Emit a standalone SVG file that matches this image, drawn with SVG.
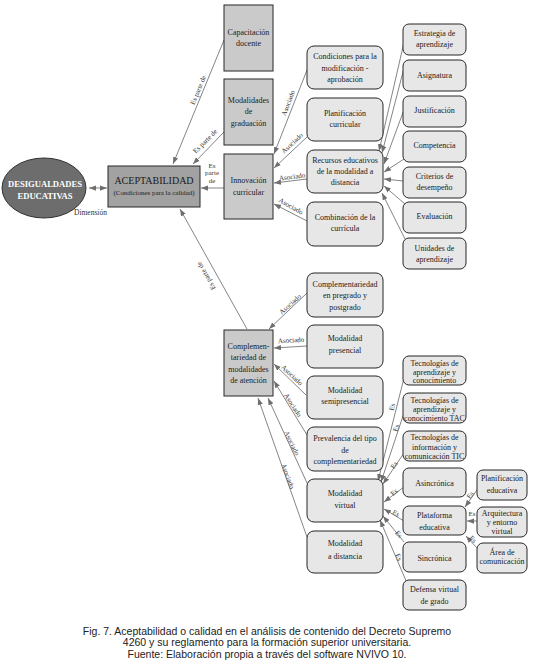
<svg xmlns="http://www.w3.org/2000/svg" width="534" height="668" viewBox="0 0 534 668">
<defs>
<marker id="ah" viewBox="0 0 8 6" refX="8" refY="3" markerWidth="7" markerHeight="5.5" markerUnits="userSpaceOnUse" orient="auto-start-reverse">
<path d="M0,0 L8,3 L0,6 z" fill="#6f6f6f"/>
</marker>
<style>
.sq{fill:#cacaca;stroke:#262626;stroke-width:1}
.rb{fill:#e7e7e7;stroke:#262626;stroke-width:1}
.t{font-family:"Liberation Serif","Times New Roman",serif;font-size:8px;fill:#1a1a1a;text-anchor:middle}
.lb{font-family:"Liberation Serif","Times New Roman",serif;font-size:7px;fill:#333;text-anchor:middle}
.c{stroke:#777;stroke-width:0.9;fill:none;marker-end:url(#ah)}
.cap{font-family:"Liberation Sans",Arial,sans-serif;font-size:10.5px;fill:#222;text-anchor:middle}
</style>
</defs>
<rect width="534" height="668" fill="#ffffff"/>

<g id="connectors">
<path class="c" d="M89,188 L107,188" style="marker-start:url(#ah)"/>
<path class="c" d="M224,40 L173,164"/>
<path class="c" d="M224,132 L193,164"/>
<path class="c" d="M224,188 L201,188"/>
<path class="c" d="M247,329 L180,209"/>
<path class="c" d="M307,70 L274,154"/>
<path class="c" d="M307,137 L274,168"/>
<path class="c" d="M307,179 L274,183"/>
<path class="c" d="M307,221 L274,204"/>
<path class="c" d="M405,38 L379,151"/>
<path class="c" d="M404,68 L382,153"/>
<path class="c" d="M405,107 L384,164"/>
<path class="c" d="M404,159 L384,172"/>
<path class="c" d="M403,181 L384,179"/>
<path class="c" d="M405,204 L384,186"/>
<path class="c" d="M405,239 L382,193"/>
<path class="c" d="M307,293 L269,329"/>
<path class="c" d="M307,346 L274,348"/>
<path class="c" d="M306,395 L274,364"/>
<path class="c" d="M307,435 L274,381"/>
<path class="c" d="M307,483 L268,398"/>
<path class="c" d="M307,537 L258,398"/>
<path class="c" d="M404,378 L378,481"/>
<path class="c" d="M404,413 L381,482"/>
<path class="c" d="M404,453 L383,484"/>
<path class="c" d="M404,487 L384,502"/>
<path class="c" d="M404,521 L384,509"/>
<path class="c" d="M404,542 L383,516"/>
<path class="c" d="M407,583 L380,520"/>
<path class="c" d="M477,490 L465,507"/>
<path class="c" d="M477,521 L467,521"/>
<path class="c" d="M477,548 L466,536"/>
</g>

<g id="connector-labels">
<text class="lb" x="0" y="2.5" transform="translate(198,90) rotate(-67.5)">Es parte de</text>
<text class="lb" x="0" y="2.5" transform="translate(205,141) rotate(-45)">Es parte de</text>
<text class="lb" x="212" y="167.5">Es</text>
<text class="lb" x="212" y="175">parte</text>
<text class="lb" x="212" y="182.5">de</text>
<text class="lb" x="0" y="2.5" transform="translate(206,276) rotate(240.6)">Es parte de</text>
<text class="lb" x="0" y="2.5" transform="translate(288,103) rotate(-69)">Asociado</text>
<text class="lb" x="0" y="2.5" transform="translate(292,143) rotate(-43)">Asociado</text>
<text class="lb" x="0" y="2.5" transform="translate(292,176.5) rotate(-7)">Asociado</text>
<text class="lb" x="0" y="2.5" transform="translate(291,206) rotate(30)">Asociado</text>
<text class="lb" x="0" y="2.5" transform="translate(290,304) rotate(-42)">Asociado</text>
<text class="lb" x="0" y="2.5" transform="translate(291,340) rotate(-3)">Asociado</text>
<text class="lb" x="0" y="2.5" transform="translate(292,375) rotate(43)">Asociado</text>
<text class="lb" x="0" y="2.5" transform="translate(293,405) rotate(57)">Asociado</text>
<text class="lb" x="0" y="2.5" transform="translate(292,443) rotate(64)">Asociado</text>
<text class="lb" x="0" y="2.5" transform="translate(288,476) rotate(70)">Asociado</text>
<text class="lb" x="0" y="2.5" transform="translate(392,407) rotate(-76)">Es</text>
<text class="lb" x="0" y="2.5" transform="translate(396,428) rotate(-72)">Es</text>
<text class="lb" x="0" y="2.5" transform="translate(394,465) rotate(-55)">Es</text>
<text class="lb" x="0" y="2.5" transform="translate(394,492) rotate(-40)">Es</text>
<text class="lb" x="0" y="2.5" transform="translate(396,513) rotate(30)">Es</text>
<text class="lb" x="0" y="2.5" transform="translate(399,534) rotate(50)">Es</text>
<text class="lb" x="0" y="2.5" transform="translate(399,557) rotate(67)">Es</text>
<text class="lb" x="0" y="2.5" transform="translate(470,495) rotate(-53)">Es</text>
<text class="lb" x="472" y="516">Es</text>
<text class="lb" x="0" y="2.5" transform="translate(473,539) rotate(47)">Es</text>
<text class="lb" x="74" y="214.5" style="text-anchor:start;font-size:7.5px">Dimensión</text>
</g>

<g id="desigualdades">
<ellipse cx="44" cy="188" rx="42" ry="30" fill="#6d6d6d" stroke="#333" stroke-width="1"/>
<text x="45" y="186.5" style="font-family:'Liberation Serif','Times New Roman',serif;font-size:8.6px;font-weight:bold;fill:#fff;text-anchor:middle">DESIGUALDADES</text>
<text x="45" y="199" style="font-family:'Liberation Serif','Times New Roman',serif;font-size:8.6px;font-weight:bold;fill:#fff;text-anchor:middle">EDUCATIVAS</text>
</g>

<g id="aceptabilidad">
<rect x="108" y="166" width="92" height="41" fill="#a2a2a2" stroke="#262626" stroke-width="1"/>
<text class="t" x="154" y="184" style="font-size:10px">ACEPTABILIDAD</text>
<text class="t" x="154" y="195" style="font-size:6.9px">(Condiciones para la calidad)</text>
</g>

<g id="capacitacion">
<rect class="sq" x="224" y="5" width="49" height="66"/>
<text class="t" x="248.5" y="34.5">Capacitación</text>
<text class="t" x="248.5" y="45.5">docente</text>
</g>
<g id="modalidades-graduacion">
<rect class="sq" x="224" y="79" width="49" height="66"/>
<text class="t" x="248.5" y="102.5">Modalidades</text>
<text class="t" x="248.5" y="114">de</text>
<text class="t" x="248.5" y="125.5">graduación</text>
</g>
<g id="innovacion">
<rect class="sq" x="224" y="154" width="49" height="65"/>
<text class="t" x="248.5" y="183">Innovación</text>
<text class="t" x="248.5" y="194.5">curricular</text>
</g>
<g id="complementariedad">
<rect class="sq" x="224" y="330" width="49" height="66"/>
<text class="t" x="248.5" y="348.5">Complemen-</text>
<text class="t" x="248.5" y="360">tariedad de</text>
<text class="t" x="248.5" y="371.5">modalidades</text>
<text class="t" x="248.5" y="383">de atención</text>
</g>

<g id="condiciones">
<rect class="rb" x="307" y="46" width="76" height="43" rx="7"/>
<text class="t" x="345" y="59">Condiciones para la</text>
<text class="t" x="345" y="70.5">modificación -</text>
<text class="t" x="345" y="82">aprobación</text>
</g>
<g id="planificacion-curricular">
<rect class="rb" x="307" y="98" width="76" height="43" rx="7"/>
<text class="t" x="345" y="115.5">Planificación</text>
<text class="t" x="345" y="127">curricular</text>
</g>
<g id="recursos">
<rect class="rb" x="307" y="150" width="76" height="43" rx="7"/>
<text class="t" x="345" y="162.5">Recursos educativos</text>
<text class="t" x="345" y="174">de la modalidad a</text>
<text class="t" x="345" y="185">distancia</text>
</g>
<g id="combinacion">
<rect class="rb" x="307" y="202" width="76" height="44" rx="7"/>
<text class="t" x="345" y="219.5">Combinación de la</text>
<text class="t" x="345" y="231">currícula</text>
</g>

<g id="estrategia">
<rect class="rb" x="403" y="24" width="63" height="31" rx="6"/>
<text class="t" x="434.5" y="36">Estrategia de</text>
<text class="t" x="434.5" y="47">aprendizaje</text>
</g>
<g id="asignatura">
<rect class="rb" x="403" y="60" width="63" height="31" rx="6"/>
<text class="t" x="434.5" y="78">Asignatura</text>
</g>
<g id="justificacion">
<rect class="rb" x="403" y="96" width="63" height="31" rx="6"/>
<text class="t" x="434.5" y="113">Justificación</text>
</g>
<g id="competencia">
<rect class="rb" x="403" y="131" width="63" height="31" rx="6"/>
<text class="t" x="434.5" y="148">Competencia</text>
</g>
<g id="criterios">
<rect class="rb" x="403" y="167" width="63" height="31" rx="6"/>
<text class="t" x="434.5" y="179">Criterios de</text>
<text class="t" x="434.5" y="190">desempeño</text>
</g>
<g id="evaluacion">
<rect class="rb" x="403" y="202" width="63" height="31" rx="6"/>
<text class="t" x="434.5" y="219">Evaluación</text>
</g>
<g id="unidades">
<rect class="rb" x="403" y="238" width="63" height="31" rx="6"/>
<text class="t" x="434.5" y="251">Unidades de</text>
<text class="t" x="434.5" y="262">aprendizaje</text>
</g>

<g id="compl-pregrado">
<rect class="rb" x="307" y="273" width="76" height="44" rx="7"/>
<text class="t" x="345" y="286.5">Complementariedad</text>
<text class="t" x="345" y="298">en pregrado y</text>
<text class="t" x="345" y="309.5">postgrado</text>
</g>
<g id="presencial">
<rect class="rb" x="307" y="325" width="76" height="43" rx="7"/>
<text class="t" x="345" y="341">Modalidad</text>
<text class="t" x="345" y="352.5">presencial</text>
</g>
<g id="semipresencial">
<rect class="rb" x="307" y="376" width="76" height="43" rx="7"/>
<text class="t" x="345" y="392.5">Modalidad</text>
<text class="t" x="345" y="404">semipresencial</text>
</g>
<g id="prevalencia">
<rect class="rb" x="307" y="427" width="76" height="44" rx="7"/>
<text class="t" x="345" y="441">Prevalencia del tipo</text>
<text class="t" x="345" y="452.5">de</text>
<text class="t" x="345" y="463.5">complementariedad</text>
</g>
<g id="virtual">
<rect class="rb" x="307" y="479" width="76" height="43" rx="7"/>
<text class="t" x="345" y="496">Modalidad</text>
<text class="t" x="345" y="507.5">virtual</text>
</g>
<g id="distancia">
<rect class="rb" x="307" y="531" width="76" height="42" rx="7"/>
<text class="t" x="345" y="546">Modalidad</text>
<text class="t" x="345" y="558.5">a distancia</text>
</g>

<g id="tec-aprendizaje">
<rect class="rb" x="403" y="356" width="63" height="29" rx="6"/>
<text class="t" x="434.5" y="365.5">Tecnologías de</text>
<text class="t" x="434.5" y="374.5">aprendizaje y</text>
<text class="t" x="434.5" y="383">conocimiento</text>
</g>
<g id="tac">
<rect class="rb" x="403" y="393" width="63" height="30" rx="6"/>
<text class="t" x="434.5" y="402.5">Tecnologías de</text>
<text class="t" x="434.5" y="411.5">aprendizaje y</text>
<text class="t" x="434.5" y="420.5">conocimiento TAC</text>
</g>
<g id="tic">
<rect class="rb" x="403" y="431" width="63" height="30" rx="6"/>
<text class="t" x="434.5" y="440">Tecnologías de</text>
<text class="t" x="434.5" y="449.5">información y</text>
<text class="t" x="434.5" y="458.5">comunicación TIC</text>
</g>
<g id="asincronica">
<rect class="rb" x="403" y="468" width="63" height="29" rx="6"/>
<text class="t" x="434.5" y="485.5">Asincrónica</text>
</g>
<g id="plataforma">
<rect class="rb" x="403" y="506" width="63" height="29" rx="6"/>
<text class="t" x="434.5" y="517.5">Plataforma</text>
<text class="t" x="434.5" y="529.5">educativa</text>
</g>
<g id="sincronica">
<rect class="rb" x="403" y="542" width="63" height="30" rx="6"/>
<text class="t" x="434.5" y="560.5">Sincrónica</text>
</g>
<g id="defensa">
<rect class="rb" x="403" y="580" width="63" height="30" rx="6"/>
<text class="t" x="434.5" y="592">Defensa virtual</text>
<text class="t" x="434.5" y="604">de grado</text>
</g>

<g id="planificacion-educativa">
<rect class="rb" x="477" y="470" width="50" height="30" rx="6"/>
<text class="t" x="502" y="481">Planificación</text>
<text class="t" x="502" y="492.5">educativa</text>
</g>
<g id="arquitectura">
<rect class="rb" x="477" y="507" width="50" height="30" rx="6"/>
<text class="t" x="502" y="515.5">Arquitectura</text>
<text class="t" x="502" y="524.5">y entorno</text>
<text class="t" x="502" y="533.5">virtual</text>
</g>
<g id="area-comunicacion">
<rect class="rb" x="477" y="543" width="50" height="30" rx="6"/>
<text class="t" x="502" y="554.5">Área de</text>
<text class="t" x="502" y="563.5">comunicación</text>
</g>

<g id="caption">
<text class="cap" x="267" y="634.5">Fig. 7. Aceptabilidad o calidad en el análisis de contenido del Decreto Supremo</text>
<text class="cap" x="267" y="646">4260 y su reglamento para la formación superior universitaria.</text>
<text class="cap" x="267" y="657.5">Fuente: Elaboración propia a través del software NVIVO 10.</text>
</g>
</svg>
